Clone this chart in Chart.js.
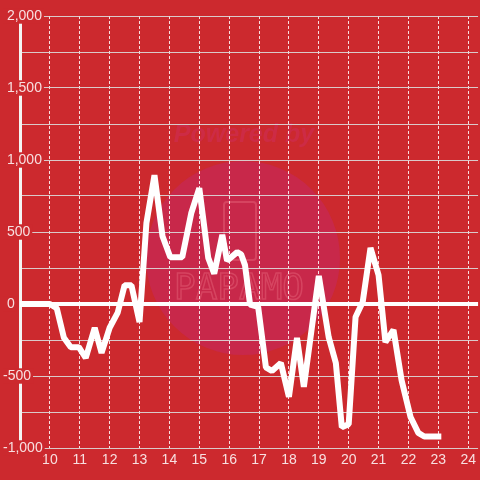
<!DOCTYPE html>
<html>
<head>
<meta charset="utf-8">
<script src="https://cdn.jsdelivr.net/npm/chart.js@4/dist/chart.umd.min.js"></script>
<style>
  html, body { margin: 0; padding: 0; background: #cc292e; }
  #wrap { width: 480px; height: 480px; }
</style>
</head>
<body>
<div id="wrap"><canvas id="chart"></canvas></div>
<script>
// hour of day (x) and value (y)
const hours = [9.0, 10.0, 10.23, 10.47, 10.7, 10.97, 11.2, 11.5, 11.73, 12.0,
  12.27, 12.5, 12.73, 13.0, 13.23, 13.5, 13.77, 14.03, 14.43, 14.73,
  15.0, 15.3, 15.5, 15.77, 15.93, 16.27, 16.4, 16.53, 16.7, 16.97,
  17.23, 17.43, 17.73, 18.0, 18.27, 18.5, 19.0, 19.33, 19.57, 19.77,
  20.0, 20.23, 20.47, 20.73, 21.0, 21.23, 21.5, 21.77, 22.07, 22.33,
  22.53, 23.1];
const values = [0, 0, -30, -235, -300, -300, -375, -165, -340, -165,
  -60, 130, 130, -125, 560, 895, 470, 325, 325, 630,
  805, 320, 210, 480, 300, 360, 345, 270, -5, -20,
  -440, -465, -410, -645, -235, -575, 195, -230, -410, -855,
  -835, -90, 15, 390, 200, -265, -180, -530, -785, -895,
  -920, -920];

// axis settings
const xMin = 9.0;
const xMax = 24.33;
const xFirstLabel = 10;
const yMin = -1000;
const yMax = 2000;
const yStep = 250;
const yLabelStep = 500;

const bgColor = '#cc292e';
const labelColor = 'rgba(255,255,255,0.85)';
const labelFont = { family: '"Liberation Sans", Arial, sans-serif', size: 14, lineHeight: 1.1 };

// faint "Powered by PAPAMO" watermark behind the grid
const watermarkPlugin = {
  id: 'watermark',
  beforeDraw(chart) {
    const { ctx } = chart;
    ctx.save();
    ctx.fillStyle = bgColor;
    ctx.fillRect(0, 0, chart.width, chart.height);

    ctx.fillStyle = '#c8284a';
    ctx.beginPath();
    ctx.arc(243, 258, 97, 0, Math.PI * 2);
    ctx.fill();

    ctx.fillStyle = 'rgba(205, 45, 90, 0.55)';
    ctx.font = 'italic bold 25px "Liberation Sans", Arial, sans-serif';
    ctx.textAlign = 'center';
    ctx.textBaseline = 'middle';
    ctx.fillText('Powered by', 244, 135);

    ctx.strokeStyle = 'rgba(235, 110, 130, 0.4)';
    ctx.lineWidth = 2;
    ctx.beginPath();
    ctx.roundRect(224, 202, 32, 58, 3);
    ctx.stroke();

    ctx.font = '36px "DejaVu Sans Mono", monospace';
    ctx.lineWidth = 1.5;
    ctx.strokeText('PAPAMO', 239, 290);
    ctx.restore();
  }
};

const points = hours.map((h, i) => ({ x: h, y: values[i] }));

new Chart(document.getElementById('chart'), {
  type: 'line',
  data: {
    datasets: [{
      data: points,
      borderColor: '#ffffff',
      borderWidth: 6,
      borderJoinStyle: 'bevel',
      pointRadius: 0,
      tension: 0,
      fill: false
    }]
  },
  options: {
    responsive: true,
    maintainAspectRatio: false,
    animation: false,
    layout: { padding: { left: 3, top: 16, right: 0, bottom: 0 } },
    plugins: {
      legend: { display: false },
      tooltip: { enabled: false }
    },
    scales: {
      x: {
        type: 'linear',
        min: xMin,
        max: xMax,
        afterFit: scale => { scale.height = 32; },
        afterBuildTicks: scale => {
          scale.ticks = scale.ticks.filter(t => t.value >= xFirstLabel && Number.isInteger(t.value));
        },
        ticks: {
          stepSize: 1,
          includeBounds: false,
          color: labelColor,
          font: labelFont,
          padding: 4,
          maxRotation: 0
        },
        grid: {
          color: 'rgba(255,255,255,0.85)',
          lineWidth: 1,
          drawTicks: false
        },
        border: { display: false, dash: [3, 2] }
      },
      y: {
        min: yMin,
        max: yMax,
        afterFit: scale => { scale.width = 17; },
        ticks: {
          stepSize: yStep,
          autoSkip: false,
          mirror: true,
          crossAlign: 'near',
          color: labelColor,
          font: labelFont,
          padding: -17,
          showLabelBackdrop: ctx => ctx.tick && ctx.tick.value % yLabelStep === 0,
          backdropColor: bgColor,
          backdropPadding: { top: 0, bottom: 0, left: 0, right: 2 },
          callback: v => v % yLabelStep === 0 ? (v < 0 ? '' : ' ') + v.toLocaleString('en-US') : ''
        },
        grid: {
          color: ctx => ctx.tick && ctx.tick.value === 0 ? '#ffffff' : 'rgba(220,220,220,0.9)',
          lineWidth: ctx => ctx.tick && ctx.tick.value === 0 ? 4 : 1,
          drawTicks: false
        },
        border: { display: true, color: '#f4f4f4', width: 3 }
      }
    }
  },
  plugins: [watermarkPlugin]
});
</script>
</body>
</html>
